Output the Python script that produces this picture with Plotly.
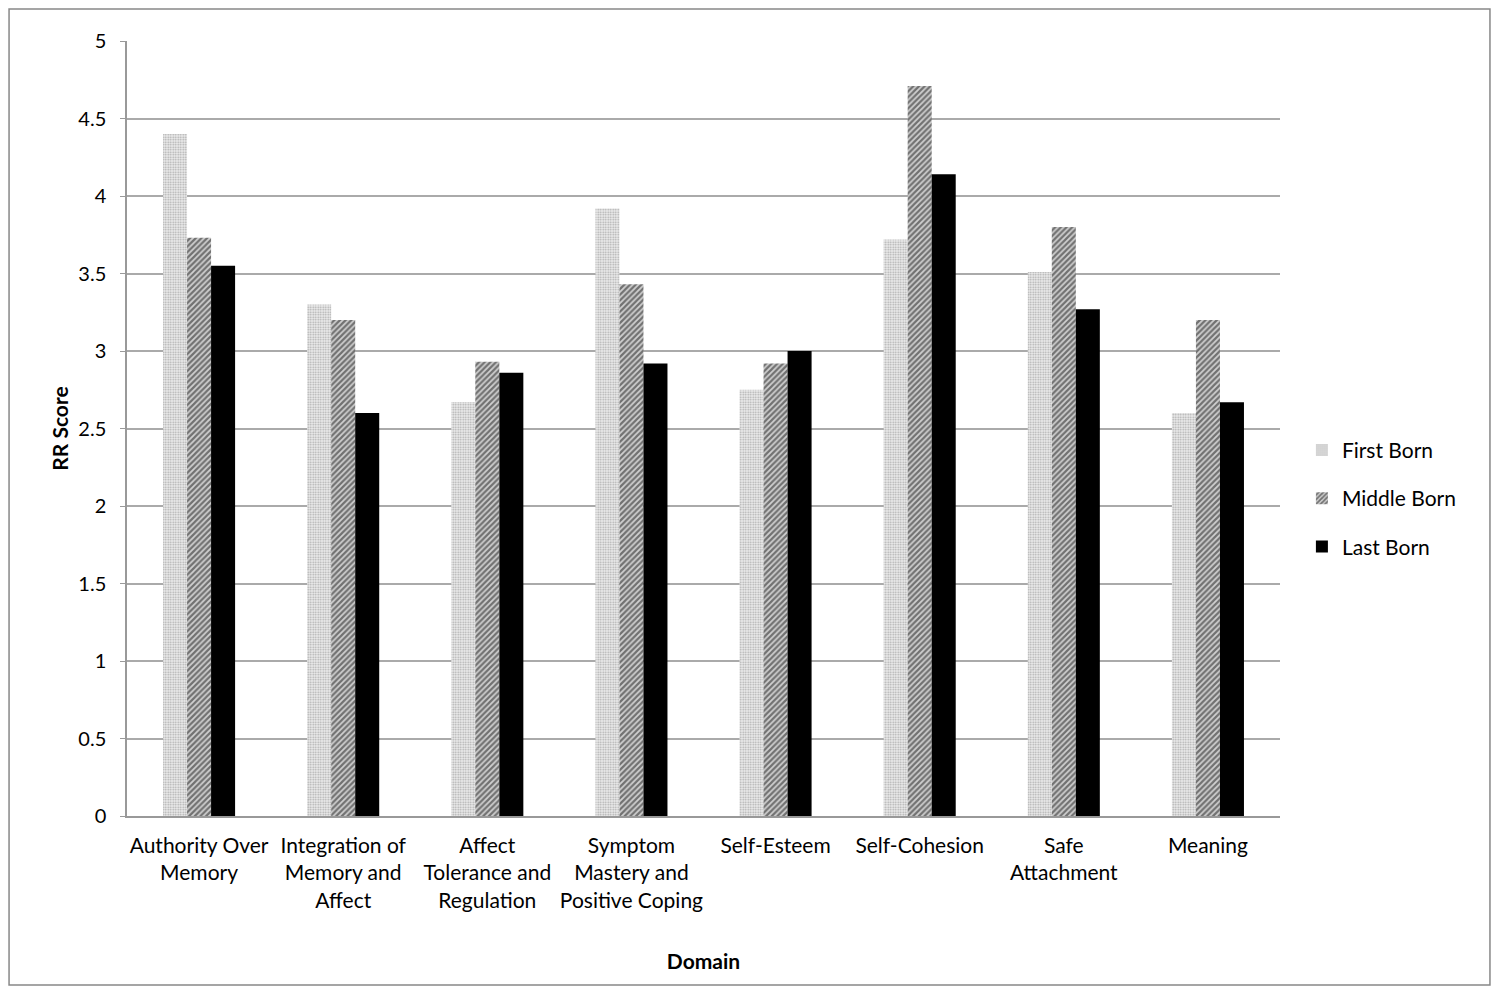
#!/usr/bin/env python3
"""
RR score by domain and birth order
"""

import plotly.graph_objs as go

# Data
domains = ["Authority Over<br>Memory", "Integration of<br>Memory and<br>Affect",
           "Affect<br>Tolerance and<br>Regulation",
           "Symptom<br>Mastery and<br>Positive Coping",
           "Self-Esteem", "Self-Cohesion", "Safe<br>Attachment", "Meaning"]
first_born = [4.40, 3.30, 2.67, 3.92, 2.75, 3.72, 3.51, 2.60]
middle_born = [3.73, 3.20, 2.93, 3.43, 2.92, 4.71, 3.80, 3.20]
last_born = [3.55, 2.60, 2.86, 2.92, 3.00, 4.14, 3.27, 2.67]
y_ticks = [0, 0.5, 1, 1.5, 2, 2.5, 3, 3.5, 4, 4.5, 5]

FONT = "Lato"


def main():

    traces = [
        go.Bar(x=domains, y=first_born, name="First Born", legendgroup="a",
               marker=dict(color="white", line=dict(width=0),
                           pattern=dict(shape=".", fgcolor="#666666",
                                        bgcolor="#eeeeee", size=2.5,
                                        solidity=0.4))),
        go.Bar(x=domains, y=middle_born, name="Middle Born", legendgroup="b",
               marker=dict(color="white", line=dict(width=0),
                           pattern=dict(shape="/", fgcolor="#111111",
                                        bgcolor="#d0d0d0", size=4,
                                        solidity=0.55))),
        go.Bar(x=domains, y=last_born, name="Last Born", legendgroup="c",
               marker=dict(color="black", line=dict(width=0))),
    ]

    layout = go.Layout(
        width=1484, height=978,
        margin=dict(l=119, r=212, t=33, b=170),
        paper_bgcolor="white", plot_bgcolor="white",
        barmode="group", bargap=0.5, bargroupgap=0,
        font=dict(family=FONT, size=21, color="black"),
        xaxis=dict(
            showline=True, linecolor="#999999", linewidth=1.5,
            ticks="", showgrid=False, ticklabelstandoff=10,
            tickfont=dict(size=21),
            title=dict(text="<b>Domain</b>", font=dict(size=21), standoff=44),
        ),
        yaxis=dict(
            range=[0, 5], tickvals=y_ticks,
            ticktext=[f"{v:g}" for v in y_ticks],
            showline=True, linecolor="#999999", linewidth=1.5,
            ticks="outside", ticklen=5, tickcolor="#999999",
            ticklabelstandoff=10,
            showgrid=True, gridcolor="#aaaaaa", gridwidth=1.5,
            zeroline=False, tickfont=dict(size=20),
            title=dict(text="<b>RR Score</b>", font=dict(size=21), standoff=4),
        ),
        legend=dict(x=1.019, y=0.41, xanchor="left", yanchor="middle",
                    font=dict(size=21), tracegroupgap=18, itemwidth=30,
                    bgcolor="rgba(0,0,0,0)"),
        shapes=[dict(type="rect", xref="paper", yref="paper",
                     x0=-0.1023, x1=1.1821, y0=-0.218, y1=1.0413,
                     line=dict(color="#888888", width=1.5))],
    )

    fig = go.Figure(data=traces, layout=layout)
    fig.write_html("out.html")


if __name__ == "__main__":

    main()
